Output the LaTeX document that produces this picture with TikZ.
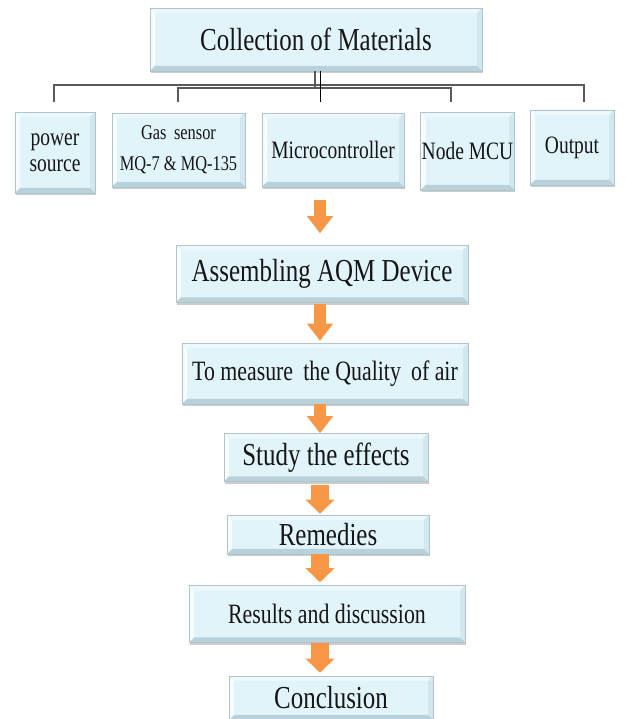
\documentclass[tikz,border=0pt]{standalone}
\usepackage{fontspec}
\setmainfont{Liberation Serif}[FakeStretch=0.78]
\usepackage{xcolor}
\usepackage{tikz}
\usetikzlibrary{arrows.meta,positioning,calc,shadows}
\definecolor{ink}{HTML}{161616}
\definecolor{sky}{HTML}{E1F4FA}
\definecolor{skyL}{HTML}{F7FCFE}
\definecolor{skyT}{HTML}{EDF8FC}
\definecolor{skyM}{HTML}{D2E7EE}
\definecolor{skyD}{HTML}{B9D1DA}
\definecolor{edge}{HTML}{AFC5CD}
\definecolor{org}{HTML}{F79646}
\definecolor{wire}{HTML}{5A5A5A}
\newcommand\bvl{5pt}
\tikzset{
  box/.style   ={draw=edge, line width=.5pt, fill=sky, align=center, inner sep=1pt, text=ink,
                 drop shadow={shadow xshift=1.2pt, shadow yshift=-2.4pt, fill=black!40, opacity=.5},
                 path picture={
                   \path (path picture bounding box.north west) coordinate (pnw)
                         (path picture bounding box.south east) coordinate (pse);
                   \fill[skyL] (pnw) -- (pnw|-pse) -- ($(pnw|-pse)+(\bvl,\bvl)$) -- ($(pnw)+(\bvl,-\bvl)$) -- cycle;
                   \fill[skyT] (pnw) -- (pse|-pnw) -- ($(pse|-pnw)+(-\bvl,-\bvl)$) -- ($(pnw)+(\bvl,-\bvl)$) -- cycle;
                   \fill[skyM] (pse|-pnw) -- (pse) -- ($(pse)+(-\bvl,\bvl)$) -- ($(pse|-pnw)+(-\bvl,-\bvl)$) -- cycle;
                   \fill[skyD] (pnw|-pse) -- (pse) -- ($(pse)+(-\bvl,\bvl)$) -- ($(pnw|-pse)+(\bvl,\bvl)$) -- cycle;
                 }},
  bigtxt/.style={font=\fontsize{32}{34}\selectfont},
  midtxt/.style={font=\fontsize{28}{30}\selectfont},
  smltxt/.style={font=\fontsize{25}{26}\selectfont},
  gastxt/.style={font=\fontsize{21}{31}\selectfont},
  tree/.style  ={draw=wire, line width=1.8pt},
  stem/.style  ={draw=black, line width=.9pt},
  blk/.style   ={draw=org, line width=12pt, -{Triangle[width=25pt,length=17pt]}},
  blkw/.style  ={draw=org, line width=18pt, -{Triangle[width=28pt,length=14pt]}},
}
\begin{document}
\begin{tikzpicture}[x=1pt,y=1pt]
  \useasboundingbox (0,0) rectangle (624,719);
  \node[box, bigtxt, minimum width=332pt, minimum height=63pt] (cm) at (316,679.5) {Collection of Materials};
  % parts row
  \node[box, smltxt, minimum width=80pt,  minimum height=81pt] (ps) at (55,566.5) {power\\source};
  \node[box, gastxt, minimum width=133pt, minimum height=74pt] (gs) at (178.5,569) {Gas\, sensor\\MQ-7 \& MQ-135};
  \node[box, smltxt, minimum width=142pt, minimum height=74pt] (mc) at (333,569) {Microcontroller};
  \node[box, smltxt, minimum width=93pt,  minimum height=78pt] (nm) at (467.5,568) {Node MCU};
  \node[box, smltxt, minimum width=84pt,  minimum height=75pt] (op) at (572,571.5) {Output};
  % main chain
  \node[box, bigtxt, minimum width=292pt, minimum height=57pt, below=58pt of mc, xshift=-11pt] (as) {Assembling AQM Device};
  \node[box, midtxt, minimum width=286pt, minimum height=61pt, below=40pt of as, xshift=3pt] (mq) {To measure\, the Quality\, of air};
  \node[box, bigtxt, minimum width=204pt, minimum height=48pt, below=29pt of mq, xshift=1pt] (st) {Study the effects};
  \node[box, bigtxt, minimum width=202pt, minimum height=39pt, below=33pt of st, xshift=2pt] (rm) {Remedies};
  \node[box, midtxt, minimum width=276pt, minimum height=57pt, below=31pt of rm, xshift=-1pt] (rs) {Results and discussion};
  \node[box, bigtxt, minimum width=204pt, minimum height=44pt, below=33pt of rs, xshift=4pt] (cl) {Conclusion};
  % tree under the top box
  \foreach \n/\x in {ps/54,gs/178,mc/320,nm/451,op/584}
    \coordinate (\n-t) at (\x,617);
  \draw[tree] (ps-t) -- ++(0,17) -| (op-t);
  \draw[tree] (gs-t) -- ++(0,14) -| (nm-t);
  \draw[tree] ($(cm.south -| mc-t)+(-5pt,0)$) -- ++(0,-17);
  \draw[stem] (cm.south -| mc-t) -- (mc-t);
  % arrows
  \draw[blk, shorten <=13pt, shorten >=12pt] (mc.south -| mc-t) -- (as.north -| mc-t);
  \draw[blk, shorten <=1pt, shorten >=2pt] (as.south -| mc-t) -- (mq.north -| mc-t);
  \draw[blk] (mq.south -| mc-t) -- (st.north -| mc-t);
  \draw[blkw, shorten <=3pt, shorten >=1pt] (st.south -| mc-t) -- (rm.north -| mc-t);
  \draw[blkw, shorten >=3pt] (rm.south -| mc-t) -- (rs.north -| mc-t);
  \draw[blkw, shorten >=3pt] (rs.south -| mc-t) -- (cl.north -| mc-t);
\end{tikzpicture}
\end{document}
